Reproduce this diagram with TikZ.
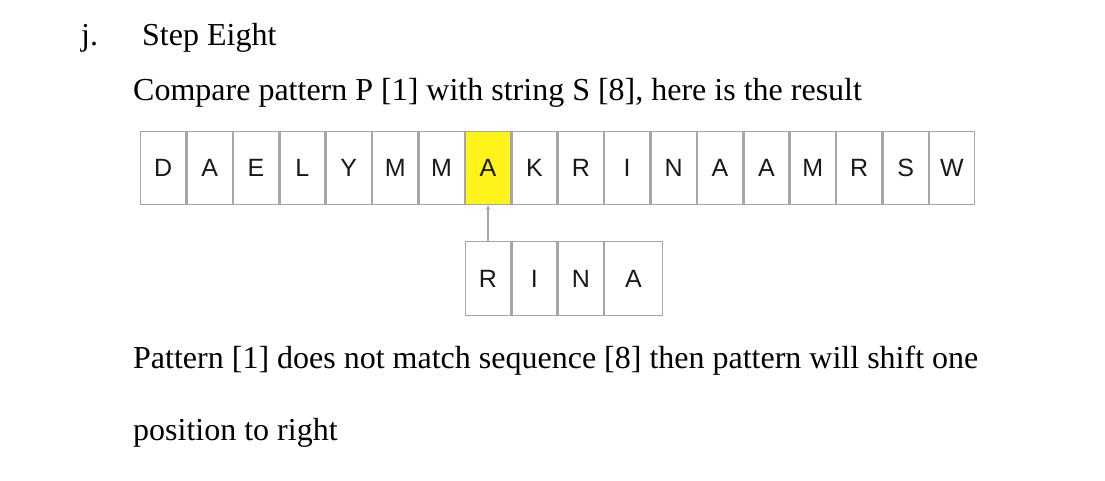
\documentclass[tikz,border=0pt]{standalone}
\usepackage{fontspec}
\setmainfont{Liberation Serif}
\newfontfamily\cellfont{Liberation Sans}
\usetikzlibrary{arrows.meta, positioning}

\begin{document}
\begin{tikzpicture}[
    x=1pt, y=-1pt,
    node distance=0pt,
    cell/.style={draw=gray!70, line width=1.3pt, minimum width=45.1pt, minimum height=72.7pt,
                 inner sep=0pt, font=\cellfont\fontsize{25}{25}\selectfont, text=black!90},
    txt/.style={inner sep=0pt, anchor=base west, font=\fontsize{32}{36}\selectfont},
    >={Stealth[length=5pt, width=4pt]} % Arrow style
]
\useasboundingbox (0,0) rectangle (1105,480);

% Text
\node[txt] (item) at (81,45) {j.};
\node[txt] (title) at (142,45) {Step Eight};
\node[txt] (intro) at (133,100) {Compare pattern P [1] with string S [8], here is the result};
\node[txt] (note) at (133,368) {Pattern [1] does not match sequence [8] then pattern will shift one};
\node[txt] (note2) at (133,440) {position to right};

% String cells
\node[cell, anchor=north west] (S1) at (140,131) {D};
\node[cell, right=of S1] (S2) {A};
\node[cell, right=of S2] (S3) {E};
\node[cell, right=of S3] (S4) {L};
\node[cell, right=of S4] (S5) {Y};
\node[cell, right=of S5] (S6) {M};
\node[cell, right=of S6] (S7) {M};
\node[cell, right=of S7, fill=yellow!90!white] (S8) {A};
\node[cell, right=of S8] (S9) {K};
\node[cell, right=of S9] (S10) {R};
\node[cell, right=of S10] (S11) {I};
\node[cell, right=of S11] (S12) {N};
\node[cell, right=of S12] (S13) {A};
\node[cell, right=of S13] (S14) {A};
\node[cell, right=of S14] (S15) {M};
\node[cell, right=of S15] (S16) {R};
\node[cell, right=of S16] (S17) {S};
\node[cell, right=of S17] (S18) {W};

% Pattern cells
\node[cell, below=36pt of S8, minimum height=73.7pt] (P1) {R};
\node[cell, right=of P1, minimum height=73.7pt] (P2) {I};
\node[cell, right=of P2, minimum height=73.7pt] (P3) {N};
\node[cell, right=of P3, minimum height=73.7pt, minimum width=57.7pt] (P4) {A};

% Arrows
\draw[->, line width=1.3pt, gray!70] (P1) -- (S8);

\end{tikzpicture}
\end{document}
